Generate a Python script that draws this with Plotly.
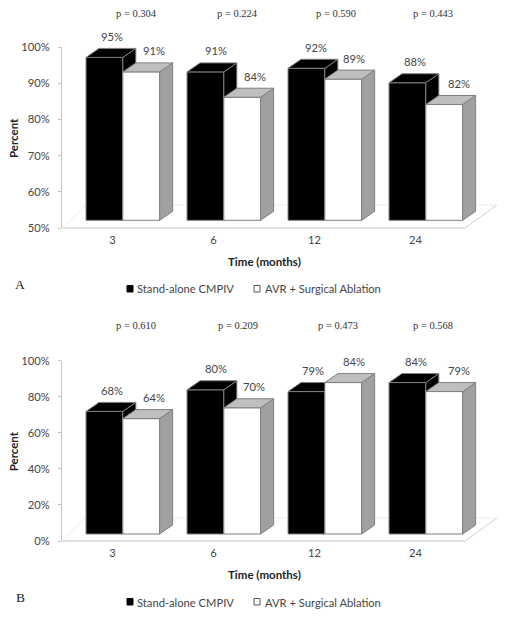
import plotly.graph_objects as go

categories = ["3", "6", "12", "24"]
series_names = ["Stand-alone CMPIV", "AVR + Surgical Ablation"]
a_cmpiv = [95, 91, 92, 88]
a_avr = [91, 84, 89, 82]
b_cmpiv = [68, 80, 79, 84]
b_avr = [64, 70, 84, 79]
p_a = ["p = 0.304", "p = 0.224", "p = 0.590", "p = 0.443"]
p_b = ["p = 0.610", "p = 0.209", "p = 0.473", "p = 0.568"]

W, H = 508, 618
TXT = "#454545"
SANS = "Lato, 'Open Sans', sans-serif"
SERIF = "'Liberation Serif', serif"
CAT_PX = 101.0
X0, X1 = 62, 497
BAR = 36.8 / CAT_PX
DX = 13 / CAT_PX


def fx(p):
    return p / W


def fy(p):
    return 1 - p / H


x_range = [-0.5, -0.5 + (X1 - X0) / CAT_PX]
positions = list(range(len(categories)))


def polys(rects):
    xs, ys = [], []
    for r in rects:
        for a, b in r:
            xs.append(a)
            ys.append(b)
        xs.append(None)
        ys.append(None)
    return xs, ys


fig = go.Figure()
annotations = []
shapes = []


def note(px, py, text, font, **kw):
    d = dict(x=fx(px), y=fy(py), xref="paper", yref="paper", text=text, showarrow=False,
             xanchor="center", yanchor="middle", font=font)
    d.update(kw)
    annotations.append(d)


def panel(values1, values2, pvals, ymin, ymax, dtick, ytop, ybot, p_xs, p_y, base_px, letter, letter_y,
          leg_y, title_y, axes_ids, shift1, shift2):
    scale = (ybot - ytop) / (ymax - ymin)
    base = ymin + (ybot - base_px) / scale
    lift = base - ymin
    dy = 9 / scale
    for k, (vals, start, fill, topc, sidec, name, ax, shift) in enumerate([
        (values1, -0.262, "#000000", "#000000", "#000000", series_names[0], axes_ids[0], shift1),
        (values2, -0.262 + BAR, "#ffffff", "#bfbfbf", "#a0a0a0", series_names[1], axes_ids[1], shift2),
    ]):
        xa = "x" + ax
        ya = "y" + ax
        fig.add_trace(go.Bar(
            x=positions, y=[v - ymin for v in vals], base=base, offset=start, width=BAR,
            name=name, marker=dict(color=fill, line=dict(color="#7f7f7f", width=1)),
            xaxis=xa, yaxis=ya, showlegend=False, hoverinfo="skip"))
        tops, sides = [], []
        for i, v in zip(positions, vals):
            l = i + start
            r = l + BAR
            t = v + lift
            tops.append([(l, t), (l + DX, t + dy), (r + DX, t + dy), (r, t), (l, t)])
            sides.append([(r, t), (r + DX, t + dy), (r + DX, base + dy), (r, base), (r, t)])
            annotations.append(dict(
                x=l + BAR / 2, y=t, xref=xa, yref=ya, text=f"{v}%", showarrow=False,
                xshift=shift[i], yshift=21, font=dict(family=SANS, size=11.2, color=TXT)))
        for rects, col in ((sides, sidec), (tops, topc)):
            xs, ys = polys(rects)
            fig.add_trace(go.Scatter(
                x=xs, y=ys, mode="lines", fill="toself", fillcolor=col,
                line=dict(color="#7f7f7f", width=1), xaxis=xa, yaxis=ya,
                showlegend=False, hoverinfo="skip"))

    # floor
    floor_line = dict(type="line", xref="paper", yref="paper", layer="below")
    shapes.append({**floor_line, "x0": fx(62), "x1": fx(465), "y0": fy(ybot), "y1": fy(ybot),
                   "line": dict(color="#c4c4c4", width=1)})
    shapes.append({**floor_line, "x0": fx(465), "x1": fx(497), "y0": fy(ybot), "y1": fy(ybot - 23),
                   "line": dict(color="#d0d0d0", width=1)})
    shapes.append({**floor_line, "x0": fx(85), "x1": fx(497), "y0": fy(ybot - 23), "y1": fy(ybot - 23),
                   "line": dict(color="#ececec", width=1)})
    shapes.append({**floor_line, "x0": fx(62), "x1": fx(85), "y0": fy(ybot), "y1": fy(ybot - 23),
                   "line": dict(color="#ececec", width=1)})

    for p, px in zip(pvals, p_xs):
        note(px, p_y, p, dict(family=SERIF, size=10.5, color="#333333"))
    note(20, letter_y, letter, dict(family=SERIF, size=13.5, color="#222222"))
    note(264, title_y, "<b>Time (months)</b>", dict(family=SANS, size=11.5, color="#222222"))
    note(13, (ytop + ybot) / 2 + 0.5, "<b>Percent</b>", dict(family=SANS, size=11.5, color="#222222"),
         textangle=-90)
    # key
    key_font = dict(family=SANS, size=11.2, color=TXT)
    note(135, leg_y, series_names[0], key_font, xanchor="left")
    note(263, leg_y, series_names[1], key_font, xanchor="left")
    shapes.append(dict(type="rect", xref="paper", yref="paper", x0=fx(127), x1=fx(133),
                       y0=fy(leg_y + 3), y1=fy(leg_y - 3.5), fillcolor="#000000", line=dict(color="#000000", width=1)))
    shapes.append(dict(type="rect", xref="paper", yref="paper", x0=fx(254), x1=fx(260),
                       y0=fy(leg_y + 3), y1=fy(leg_y - 3.5), fillcolor="#ffffff", line=dict(color="#555555", width=1)))

    dom_x = [fx(X0), fx(X1)]
    dom_y = [fy(ybot), fy(ytop)]
    common_x = dict(domain=dom_x, range=x_range)
    common_y = dict(domain=dom_y, range=[ymin, ymax])
    a0, a1 = axes_ids
    axes = {}
    axes["xaxis" + a0] = dict(common_x, tickmode="array", tickvals=positions, ticktext=categories,
                              showgrid=False, zeroline=False, showline=False, ticks="", ticklen=0,
                              ticklabelstandoff=4,
                              anchor="y" + a0, tickfont=dict(family=SANS, size=11.2, color=TXT))
    axes["yaxis" + a0] = dict(common_y, tick0=ymin, dtick=dtick, ticksuffix="%", showgrid=False,
                              zeroline=False, showline=True, linecolor="#c4c4c4", linewidth=1,
                              ticks="outside", ticklen=3, tickcolor="#c4c4c4", anchor="x" + a0,
                              ticklabelstandoff=6,
                              tickfont=dict(family=SANS, size=11.2, color=TXT))
    axes["xaxis" + a1] = dict(common_x, overlaying="x" + a0, visible=False, anchor="y" + a1)
    axes["yaxis" + a1] = dict(common_y, overlaying="y" + a0, visible=False, anchor="x" + a1)
    fig.update_layout(**axes)


panel(a_cmpiv, a_avr, p_a, 50, 100, 10, 47, 228, [136, 237, 336, 433], 13, 220.3, "A", 284, 289, 261,
      ("", "2"), [8, 11, 10, 8], [13, 13, 11, 15])
panel(b_cmpiv, b_avr, p_b, 0, 100, 20, 360.7, 541, [136, 238, 338, 433], 326, 534, "B", 597, 602, 574,
      ("3", "4"), [8, 11, 7, 9], [13, 12, 11, 15])

fig.update_layout(
    width=W, height=H, margin=dict(l=0, r=0, t=0, b=0, pad=0, autoexpand=False),
    paper_bgcolor="white", plot_bgcolor="white", barmode="overlay",
    annotations=annotations, shapes=shapes, showlegend=False,
)
fig.write_html("out.html", config={"displayModeBar": False},
               post_script="document.body.style.margin='0';document.body.style.overflow='hidden';")
